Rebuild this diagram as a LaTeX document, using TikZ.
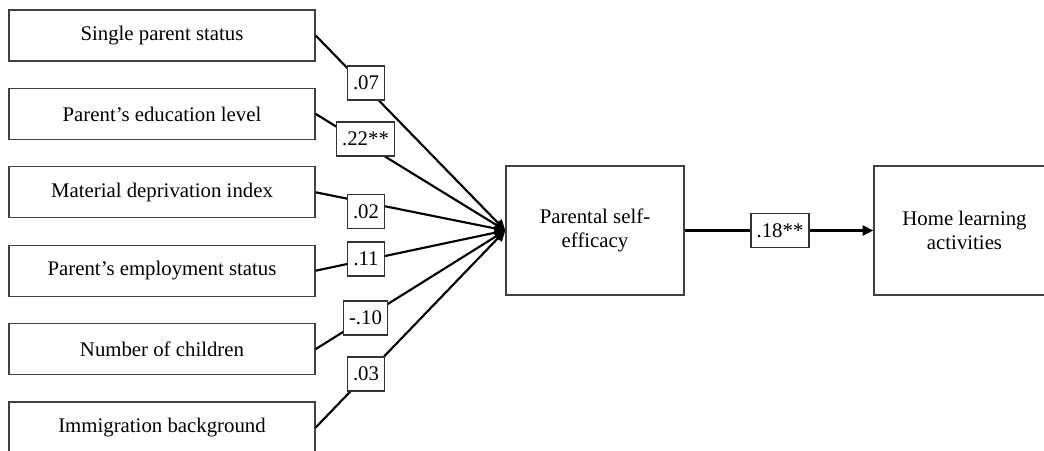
\documentclass[tikz,border=0pt]{standalone}
\usepackage{fontspec}
\setmainfont{Liberation Serif}
\usetikzlibrary{arrows.meta}

\tikzset{
  txt/.style={font=\fontsize{15.6}{18.5}\selectfont},
  varbox/.style={txt, draw=black!75, line width=1pt, fill=white,
    minimum width=306*0.75pt, minimum height=51*0.75pt, inner sep=0pt},
  bigbox/.style={txt, draw=black!75, line width=1pt, fill=white,
    minimum width=178*0.75pt, minimum height=129*0.75pt, inner sep=0pt,
    align=center},
  coef/.style={txt, draw=black!80, line width=0.8pt, fill=white,
    minimum height=34*0.75pt, inner xsep=4.2pt, inner ysep=1.5pt},
  path/.style={draw=black, line width=1.6pt,
    -{Triangle[length=8pt,width=7.5pt]}},
}

\begin{document}
\begin{tikzpicture}[x=0.75pt,y=-0.75pt]
  \useasboundingbox (0,0) rectangle (1044,450);
  \clip (0,0) rectangle (1044,450);

  % predictor boxes
  \node[varbox] (sps) at (162,35.5)  {Single parent status};
  \node[varbox] (pel) at (162,113.9) {Parent’s education level};
  \node[varbox] (mdi) at (162,192.3) {Material deprivation index};
  \node[varbox] (pes) at (162,270.7) {Parent’s employment status};
  \node[varbox] (noc) at (162,349.1) {Number of children};
  \node[varbox] (img) at (162,427.5) {Immigration background};

  % mediator and outcome
  \node[bigbox] (pse) at (595,230.5) {Parental self-\\efficacy};
  \node[bigbox, minimum width=181*0.75pt] (hla) at (964.5,230.5) {Home learning\\activities};

  % paths
  \draw[path] (sps.east) -- (pse.west);
  \draw[path] (pel.east) -- (pse.west);
  \draw[path] (mdi.east) -- (pse.west);
  \draw[path] (pes.east) -- (pse.west);
  \draw[path] (noc.east) -- (pse.west);
  \draw[path] (img.east) -- (pse.west);
  \draw[path] (pse.east) -- (hla.west);

  % path coefficients
  \node[coef] (c1) at (366,83)    {.07};
  \node[coef] (c2) at (365.5,139) {.22**};
  \node[coef] (c3) at (366,211.5) {.02};
  \node[coef] (c4) at (366,259)   {.11};
  \node[coef] (c5) at (365.5,318) {-.10};
  \node[coef] (c6) at (366,374)   {.03};
  \node[coef] (c7) at (780,230.5) {.18**};
\end{tikzpicture}
\end{document}
